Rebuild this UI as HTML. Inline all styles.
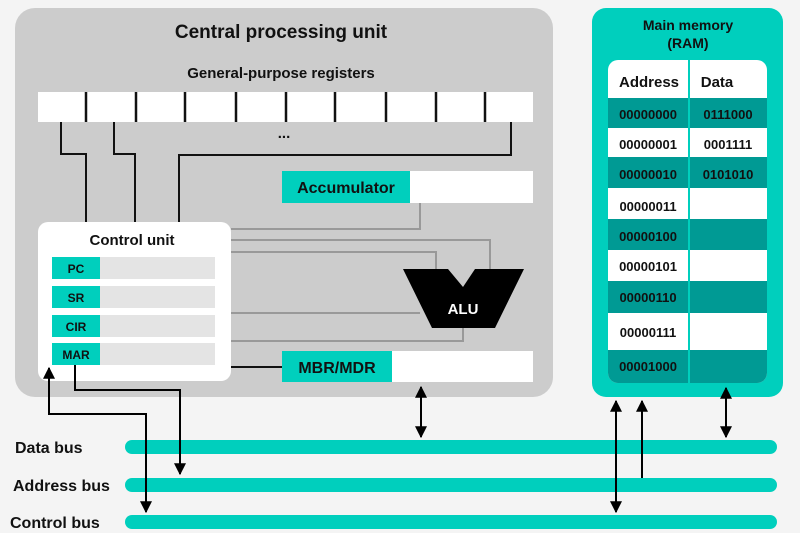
<!DOCTYPE html>
<html><head><meta charset="utf-8"><style>
html,body{margin:0;padding:0;background:#f4f4f4;}
svg{display:block;font-family:"Liberation Sans",sans-serif;font-weight:bold;}
</style></head><body>
<svg width="800" height="533" viewBox="0 0 800 533" xmlns="http://www.w3.org/2000/svg">
<defs>
<marker id="ah" viewBox="0 0 10 10" refX="9" refY="5" markerWidth="6" markerHeight="6" orient="auto-start-reverse"><path d="M0,0 L10,5 L0,10 z" fill="#000"/></marker>
</defs>
<rect width="800" height="533" fill="#f4f4f4"/>
<rect x="15" y="8" width="538" height="389" rx="20" fill="#cccccc"/>
<text x="281" y="38" font-size="19" text-anchor="middle" fill="#111">Central processing unit</text>
<text x="281" y="78" font-size="15" text-anchor="middle" fill="#111">General-purpose registers</text>
<rect x="38" y="92" width="495" height="30" fill="#fff"/>
<g stroke="#111" stroke-width="2.5">
<line x1="86" y1="92" x2="86" y2="122"/><line x1="136" y1="92" x2="136" y2="122"/><line x1="185" y1="92" x2="185" y2="122"/><line x1="236" y1="92" x2="236" y2="122"/><line x1="286" y1="92" x2="286" y2="122"/><line x1="335" y1="92" x2="335" y2="122"/><line x1="386" y1="92" x2="386" y2="122"/><line x1="436" y1="92" x2="436" y2="122"/><line x1="485" y1="92" x2="485" y2="122"/>
</g>
<text x="284" y="138" font-size="15" text-anchor="middle" fill="#111">...</text>
<g fill="none" stroke="#111" stroke-width="2">
<polyline points="61,122 61,154 86,154 86,223"/>
<polyline points="114,122 114,154 135,154 135,223"/>
<polyline points="511,122 511,155 179,155 179,223"/>
<line x1="231" y1="367" x2="282" y2="367"/>
</g>
<g fill="none" stroke="#999" stroke-width="2">
<polyline points="420,203 420,229 231,229"/>
<polyline points="231,240 490,240 490,270"/>
<polyline points="231,252 436,252 436,270"/>
<line x1="231" y1="313" x2="420" y2="313"/>
<polyline points="231,341 463,341 463,328"/>
</g>
<rect x="282" y="171" width="128" height="32" fill="#00cfbd"/>
<rect x="410" y="171" width="123" height="32" fill="#fff"/>
<text x="346" y="193" font-size="16" text-anchor="middle" fill="#111">Accumulator</text>
<polygon points="403,269 448,269 463,287 475,269 524,269 495,328 432,328" fill="#000"/>
<text x="463" y="314" font-size="15" text-anchor="middle" fill="#fff">ALU</text>
<rect x="282" y="351" width="110" height="31" fill="#00cfbd"/>
<rect x="392" y="351" width="141" height="31" fill="#fff"/>
<text x="337" y="373" font-size="16" text-anchor="middle" fill="#111">MBR/MDR</text>
<rect x="38" y="222" width="193" height="159" rx="10" fill="#fff"/>
<text x="132" y="245" font-size="15" text-anchor="middle" fill="#111">Control unit</text>
<g font-size="12" fill="#111" text-anchor="middle">
<rect x="52" y="257" width="48" height="22" fill="#00cfbd"/><rect x="100" y="257" width="115" height="22" fill="#e4e4e4"/><text x="76" y="273">PC</text>
<rect x="52" y="286" width="48" height="22" fill="#00cfbd"/><rect x="100" y="286" width="115" height="22" fill="#e4e4e4"/><text x="76" y="302">SR</text>
<rect x="52" y="315" width="48" height="22" fill="#00cfbd"/><rect x="100" y="315" width="115" height="22" fill="#e4e4e4"/><text x="76" y="331">CIR</text>
<rect x="52" y="343" width="48" height="22" fill="#00cfbd"/><rect x="100" y="343" width="115" height="22" fill="#e4e4e4"/><text x="76" y="359">MAR</text>
</g>
<rect x="592" y="8" width="191" height="389" rx="14" fill="#00cfbd"/>
<text x="688" y="30" font-size="14" text-anchor="middle" fill="#111">Main memory</text>
<text x="688" y="48" font-size="14" text-anchor="middle" fill="#111">(RAM)</text>
<clipPath id="tc"><rect x="608" y="60" width="159" height="323" rx="10"/></clipPath>
<g clip-path="url(#tc)">
<rect x="608" y="60" width="159" height="323" fill="#fff"/>
<rect x="608" y="98" width="159" height="30" fill="#009a94"/>
<rect x="608" y="157" width="159" height="31" fill="#009a94"/>
<rect x="608" y="219" width="159" height="31" fill="#009a94"/>
<rect x="608" y="281" width="159" height="32" fill="#009a94"/>
<rect x="608" y="350" width="159" height="33" fill="#009a94"/>
<line x1="689" y1="60" x2="689" y2="383" stroke="#00cfbd" stroke-width="2"/>
</g>
<g fill="#111" text-anchor="middle">
<text x="649" y="87" font-size="15">Address</text><text x="717" y="87" font-size="15">Data</text>
<g font-size="13">
<text x="648" y="119">00000000</text><text x="728" y="119">0111000</text>
<text x="648" y="149">00000001</text><text x="728" y="149">0001111</text>
<text x="648" y="179">00000010</text><text x="728" y="179">0101010</text>
<text x="648" y="211">00000011</text>
<text x="648" y="241">00000100</text>
<text x="648" y="271">00000101</text>
<text x="648" y="302">00000110</text>
<text x="648" y="337">00000111</text>
<text x="648" y="371">00001000</text>
</g></g>
<g stroke="#00cfbd" stroke-width="14" stroke-linecap="round">
<line x1="132" y1="447" x2="770" y2="447"/>
<line x1="132" y1="485" x2="770" y2="485"/>
<line x1="132" y1="522" x2="770" y2="522"/>
</g>
<g font-size="16" fill="#111">
<text x="15" y="453">Data bus</text>
<text x="13" y="491">Address bus</text>
<text x="10" y="528">Control bus</text>
</g>
<g fill="none" stroke="#000" stroke-width="2">
<polyline points="75,365 75,390 180,390 180,474" marker-end="url(#ah)"/>
<polyline points="146,512 146,414 49,414 49,368" marker-start="url(#ah)" marker-end="url(#ah)"/>
<line x1="421" y1="387" x2="421" y2="437" marker-start="url(#ah)" marker-end="url(#ah)"/>
<line x1="616" y1="401" x2="616" y2="512" marker-start="url(#ah)" marker-end="url(#ah)"/>
<line x1="642" y1="478" x2="642" y2="401" marker-end="url(#ah)"/>
<line x1="726" y1="388" x2="726" y2="437" marker-start="url(#ah)" marker-end="url(#ah)"/>
</g>
</svg>
</body></html>
